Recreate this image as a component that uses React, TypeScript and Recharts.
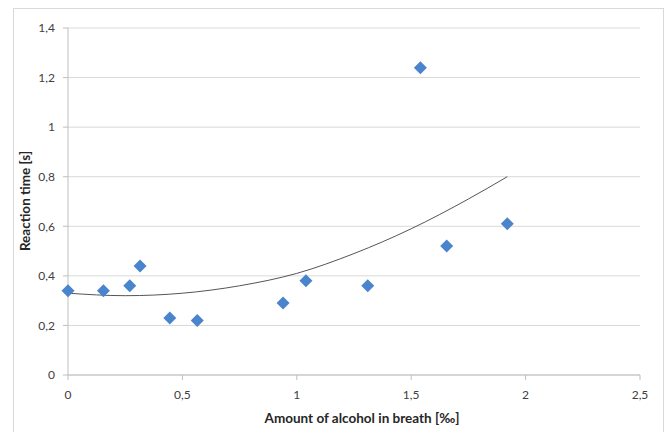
import { ComposedChart, Scatter, Line, XAxis, YAxis, CartesianGrid, Label } from 'recharts';

// measured points: breath alcohol [‰] vs reaction time [s]
const alcohol = [0, 0.155, 0.27, 0.315, 0.445, 0.565, 0.94, 1.04, 1.31, 1.54, 1.655, 1.92];
const reaction = [0.34, 0.34, 0.36, 0.44, 0.23, 0.22, 0.29, 0.38, 0.36, 1.24, 0.52, 0.61];

// trend line
const trendX = [0, 0.25, 0.5, 0.75, 1, 1.25, 1.5, 1.75, 1.92];
const trendY = [0.33, 0.32, 0.33, 0.36, 0.41, 0.49, 0.59, 0.71, 0.8];

const xTicks = [0, 0.5, 1, 1.5, 2, 2.5];
const yTicks = [0, 0.2, 0.4, 0.6, 0.8, 1, 1.2, 1.4];

const points = alcohol.map((x, i) => ({ x, y: reaction[i] }));
const trend = trendX.map((x, i) => ({ x, y: trendY[i] }));

const FONT = 'Lato, "Open Sans", sans-serif';
const fmt = (v: number) => String(v).replace('.', ',');

function Diamond(props: any) {
  const { cx, cy } = props;
  const r = 6.5;
  return (
    <path
      d={`M${cx},${cy - r} L${cx + r},${cy} L${cx},${cy + r} L${cx - r},${cy} Z`}
      fill="#4a84cc"
    />
  );
}

export default function App() {
  const tick = { fill: '#404040', fontSize: 12, fontFamily: FONT };
  return (
    <div style={{ position: 'absolute', left: 0, top: 0, width: 670, height: 432, background: '#fff' }}>
      <div
        style={{
          position: 'absolute',
          left: 13,
          top: 8,
          width: 651,
          height: 440,
          border: '1px solid #d9d9d9',
          boxSizing: 'border-box',
        }}
      />
      <ComposedChart
        width={670}
        height={432}
        margin={{ top: 28, right: 30, left: 0, bottom: 0 }}
        style={{ position: 'absolute', left: 0, top: 0 }}
      >
        <CartesianGrid vertical={false} stroke="#d9d9d9" />
        <XAxis
          type="number"
          dataKey="x"
          domain={[0, 2.5]}
          ticks={xTicks}
          tickFormatter={fmt}
          height={57}
          tickSize={5}
          tickMargin={10}
          stroke="#bfbfbf"
          tick={tick}
        >
          <Label
            content={() => (
              <text x={362} y={423} textAnchor="middle" fontFamily={FONT} fontSize={13.5} fontWeight="bold" fill="#262626">
                Amount of alcohol in breath [‰]
              </text>
            )}
          />
        </XAxis>
        <YAxis
          type="number"
          dataKey="y"
          domain={[0, 1.4]}
          ticks={yTicks}
          tickFormatter={fmt}
          width={68}
          tickSize={5}
          tickMargin={8}
          stroke="#bfbfbf"
          tick={tick}
        >
          <Label
            content={() => (
              <text
                x={30}
                y={201}
                textAnchor="middle"
                transform="rotate(-90 30 201)"
                fontFamily={FONT}
                fontSize={13.5}
                fontWeight="bold"
                fill="#262626"
              >
                Reaction time [s]
              </text>
            )}
          />
        </YAxis>
        <Line
          data={trend}
          dataKey="y"
          type="monotone"
          stroke="#555555"
          strokeWidth={1}
          dot={false}
          activeDot={false}
          isAnimationActive={false}
        />
        <Scatter data={points} dataKey="y" shape={<Diamond />} isAnimationActive={false} />
      </ComposedChart>
    </div>
  );
}
